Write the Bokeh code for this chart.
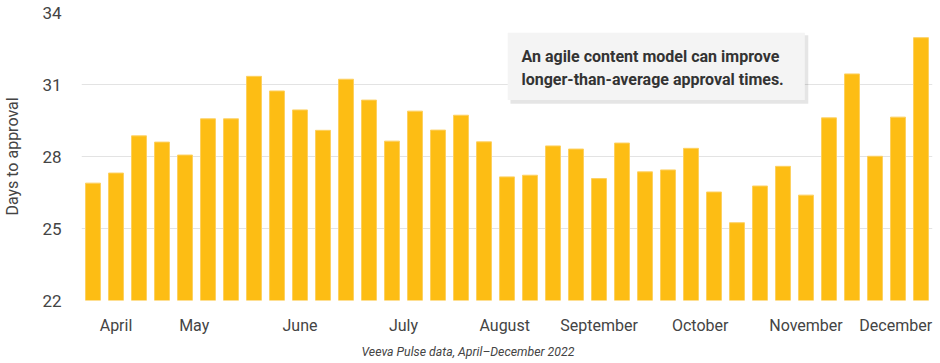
from bokeh.plotting import figure
from bokeh.models import ColumnDataSource, FixedTicker, Range1d, Title, Label, BoxAnnotation
from bokeh.embed import file_html
from bokeh.resources import INLINE

# weekly average days to approval, April - December 2022
days = [26.89, 27.31, 28.86, 28.60, 28.06, 29.57, 29.57, 31.34, 30.73, 29.94,
        29.09, 31.22, 30.35, 28.64, 29.89, 29.10, 29.72, 28.61, 27.15, 27.22,
        28.44, 28.31, 27.08, 28.56, 27.36, 27.44, 28.34, 26.52, 25.24, 26.77,
        27.59, 26.39, 29.61, 31.44, 28.01, 29.64, 32.95]
week = list(range(1, len(days) + 1))

month_labels = ["April", "May", "June", "July", "August", "September",
                "October", "November", "December"]
month_pos = [2.0, 5.4, 10.0, 14.5, 18.9, 23.0, 27.4, 32.0, 35.9]
y_ticks = [22, 25, 28, 31, 34]

FONT = "Roboto"
GREY = "#444444"

src = ColumnDataSource(dict(x=week, top=days))

p = figure(width=938, height=363, output_backend="svg", toolbar_location=None,
           x_range=Range1d(0.5, len(days) + 0.5), y_range=Range1d(22, 34),
           min_border_left=0, min_border_right=6, min_border_top=12, min_border_bottom=0)
p.outline_line_color = None
p.background_fill_color = "white"
p.border_fill_color = "white"

p.vbar(x="x", top="top", bottom=22, width=0.65, source=src,
       fill_color="#FDBD14", line_color="#FDD060", line_width=1)

# y axis
ya = p.yaxis[0]
ya.ticker = FixedTicker(ticks=y_ticks)
ya.axis_line_color = None
ya.major_tick_line_color = None
ya.minor_tick_line_color = None
ya.major_label_text_font = FONT
ya.major_label_text_font_size = "17px"
ya.major_label_text_color = GREY
ya.major_label_standoff = 14
ya.axis_label = "Days to approval"
ya.axis_label_text_font = FONT
ya.axis_label_text_font_size = "16px"
ya.axis_label_text_font_style = "normal"
ya.axis_label_text_color = GREY
ya.axis_label_standoff = 17

# x axis
xa = p.xaxis[0]
xa.ticker = FixedTicker(ticks=month_pos)
xa.major_label_overrides = {pos: lab for pos, lab in zip(month_pos, month_labels)}
xa.axis_line_color = None
xa.major_tick_line_color = None
xa.minor_tick_line_color = None
xa.major_label_text_font = FONT
xa.major_label_text_font_size = "16px"
xa.major_label_text_color = GREY
xa.major_label_standoff = 9

p.xgrid.grid_line_color = None
p.ygrid.grid_line_color = "#e3e3e3"
p.ygrid.grid_line_width = 1

# footer source note
foot = Title(text="Veeva Pulse data, April\u2013December 2022", align="left", offset=280,
             text_font=FONT, text_font_size="12.3px", text_font_style="italic",
             text_color=GREY, standoff=10)
p.add_layout(foot, "below")

# callout box with shadow
p.add_layout(BoxAnnotation(left=19.15, right=32.1, top=33.05, bottom=30.2,
                           fill_color="#000000", fill_alpha=0.10, line_color=None))
p.add_layout(BoxAnnotation(left=19.03, right=31.95, top=33.16, bottom=30.35,
                           fill_color="#f4f4f4", fill_alpha=1.0, line_color=None))
p.add_layout(Label(x=19.63, y=31.68, text="An agile content model can improve\nlonger-than-average approval times.",
                   text_font=FONT, text_font_size="16px", text_font_style="bold",
                   text_color="#333333", text_align="left", text_baseline="middle",
                   text_line_height=1.2))

open("out.html", "w").write(file_html(p, INLINE))
